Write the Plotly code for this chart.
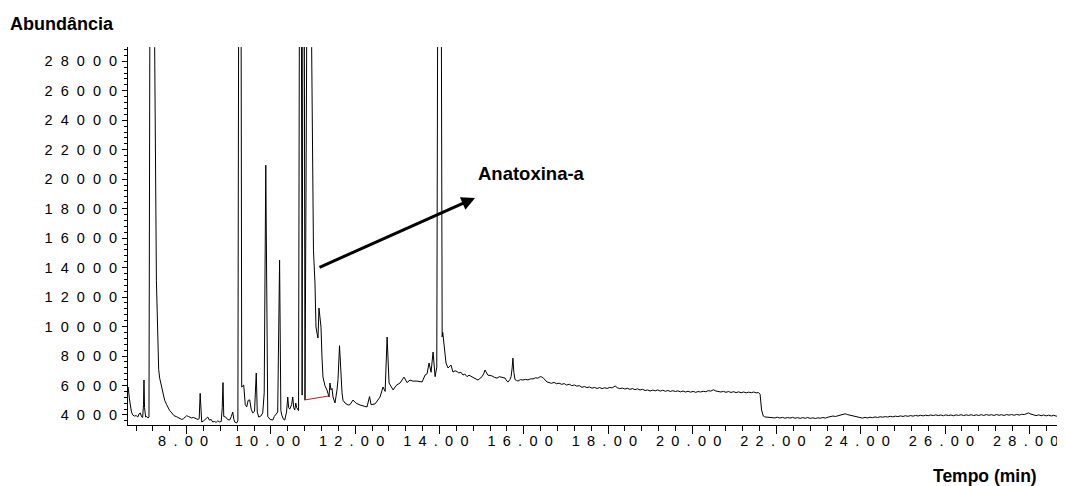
import plotly.graph_objects as go

# ---- data ----
time_min = [
    6.612, 6.64, 6.69, 6.72, 6.76, 6.80, 6.84, 6.87, 6.90, 6.93, 6.955, 6.975, 6.986, 7.00, 7.026,
    7.05, 7.081, 7.105, 7.181, 7.240, 7.281, 7.311, 7.335, 7.359, 7.406, 7.45, 7.477, 7.525, 7.56,
    7.596, 7.63, 7.667, 7.70, 7.762, 7.80, 7.881, 7.92, 7.952, 8.00, 8.04, 8.08, 8.119, 8.16, 8.20,
    8.238, 8.27, 8.297, 8.32, 8.345, 8.356, 8.40, 8.43, 8.50, 8.54, 8.58, 8.618, 8.66, 8.70, 8.736,
    8.784, 8.82, 8.843, 8.862, 8.88, 8.926, 8.97, 9.021, 9.06, 9.093, 9.12, 9.140, 9.188, 9.215,
    9.265, 9.306, 9.354, 9.39, 9.425, 9.46, 9.496, 9.53, 9.568, 9.61, 9.651, 9.675, 9.710, 9.76,
    9.805, 9.84, 9.877, 9.91, 9.924, 9.98, 10.043, 10.08, 10.114, 10.16, 10.205, 10.235, 10.257,
    10.30, 10.328, 10.37, 10.399, 10.42, 10.447, 10.49, 10.518, 10.54, 10.565, 10.589, 10.61,
    10.637, 10.655, 10.70, 10.74, 10.775, 10.808, 10.82, 10.89, 10.966, 11.004, 11.009, 11.045,
    11.069, 11.093, 11.116, 11.14, 11.164, 11.188, 11.211, 11.235, 11.28, 11.33, 11.378, 11.40,
    11.425, 11.45, 11.473, 11.52, 11.568, 11.592, 11.627, 11.663, 11.687, 11.71, 11.758, 11.83,
    11.876, 11.948, 12.02, 12.114, 12.21, 12.28, 12.34, 12.376, 12.47, 12.59, 12.66, 12.71, 12.757,
    12.803, 12.90, 12.97, 13.063, 13.158, 13.23, 13.30, 13.37, 13.468, 13.587, 13.658, 13.706,
    13.753, 13.80, 13.848, 13.896, 13.936, 14.00, 14.036, 14.064, 14.078, 14.107, 14.155, 14.202,
    14.273, 14.32, 14.37, 14.416, 14.46, 14.51, 14.558, 14.60, 14.653, 14.70, 14.75, 14.80, 14.85,
    14.914, 14.96, 15.01, 15.05, 15.08, 15.12, 15.15, 15.20, 15.247, 15.30, 15.366, 15.42, 15.484,
    15.556, 15.60, 15.627, 15.67, 15.70, 15.725, 15.743, 15.765, 15.793, 15.83, 15.864, 15.92,
    15.98, 16.04, 16.10, 16.16, 16.22, 16.28, 16.338, 16.39, 16.43, 16.47, 16.50, 16.55,
    16.60, 16.66, 16.72, 16.78, 16.84, 16.90, 16.96, 17.02, 17.08, 17.14, 17.20, 17.26, 17.32,
    17.38, 17.44, 17.50, 17.56, 17.62, 17.68, 17.74, 17.80, 17.86, 17.92, 17.98, 18.04, 18.10,
    18.17, 18.22, 18.28, 18.34, 18.40, 18.46, 18.52, 18.58, 18.64, 18.70, 18.76, 18.82, 18.88,
    18.94, 19.00, 19.06, 19.12, 19.18, 19.24, 19.30, 19.36, 19.42, 19.48, 19.54, 19.60, 19.66,
    19.72, 19.78, 19.84, 19.90, 19.96, 20.02, 20.08, 20.14, 20.20, 20.26, 20.32, 20.38, 20.44,
    20.50, 20.56, 20.62, 20.68, 20.74, 20.80, 20.86, 20.92, 20.98, 21.04, 21.10, 21.16, 21.22,
    21.28, 21.34, 21.40, 21.46, 21.52, 21.57, 21.61, 21.645, 21.685, 21.72,
    21.78, 21.84, 21.90, 21.96, 22.02, 22.08, 22.14, 22.20, 22.26, 22.32, 22.38, 22.44, 22.50,
    22.56, 22.62, 22.68, 22.74, 22.80, 22.86, 22.92, 22.98, 23.04, 23.10, 23.16, 23.22, 23.28,
    23.34, 23.40, 23.46, 23.52, 23.58, 23.63, 23.68, 23.74, 23.80, 23.86, 23.92, 23.98, 24.04,
    24.10, 24.16, 24.22, 24.28, 24.34, 24.40, 24.46, 24.52, 24.58, 24.64, 24.70, 24.76, 24.82,
    24.88, 24.94, 25.00, 25.06, 25.12, 25.18, 25.24, 25.30, 25.36, 25.42, 25.48, 25.54, 25.60,
    25.66, 25.72, 25.78, 25.84, 25.90, 25.96, 26.02, 26.08, 26.14, 26.20, 26.26, 26.32, 26.38,
    26.44, 26.50, 26.56, 26.62, 26.68, 26.74, 26.80, 26.86, 26.92, 26.98, 27.04, 27.10, 27.16,
    27.22, 27.28, 27.34, 27.40, 27.46, 27.52, 27.58, 27.64, 27.70, 27.76, 27.82, 27.88, 27.94,
    27.98, 28.04, 28.10, 28.16, 28.22, 28.28, 28.34, 28.40, 28.46, 28.52, 28.58, 28.64, 28.70,
    28.76, 28.82, 28.85,
]

abundance = [
    5900, 5100, 4200, 4000, 3930, 3960, 3860, 4080, 4130, 3880, 3830, 4700, 6370, 4500, 3860,
    3900, 3800, 3850, 100000, 28950, 13150, 8600, 7100, 6500, 5900, 5350, 5000, 4700, 4450,
    4300, 4200, 4100, 3950, 3880, 3820, 3700, 3740, 3850, 3950, 3900, 3860, 3800, 3840, 3760,
    3730, 3700, 3750, 5470, 3600, 3525, 3600, 3700, 3860, 3650, 3700, 3525, 3560, 3500, 3600,
    3525, 3560, 4500, 6200, 3900, 3860, 3700, 3660, 3900, 4200, 3700, 3525, 3460, 3600,
    80000, 5900, 6030, 4700, 4550, 5000, 5020, 4400, 4140, 4250, 6850, 4200, 3860, 3930,
    4140, 5500, 20950, 4500, 3900, 3700, 3660, 3900, 4000, 4200, 14500, 4300, 3990,
    3700, 3660, 4200, 5220, 4500, 4400, 4700, 5220, 4500, 4340, 4814, 4500,
    4340, 4300, 65000, 5350, 60000, 5017, 35000, 54000, 28950, 16540, 15187, 12950,
    9966, 9560, 9221, 11255, 10500, 9966, 7932, 6576, 6000, 5695, 5220, 6170,
    5700, 5800, 5220, 4814, 5700, 6400, 8700, 6300, 5500, 5000, 4814, 4678,
    4700, 5017, 4800, 4678, 4610, 4542, 5250, 4700, 4750, 5220, 5900, 5600, 9290,
    6170, 5700, 6000, 6170, 6570, 6200, 6370, 6300, 6300, 6240, 6710, 6800,
    7530, 6900, 8270, 6600, 7250, 80000, 30000, 9300, 9600, 8880, 7530, 7190,
    7390, 6915, 7000, 6950, 6850, 6900, 6710, 6780, 6600, 6700, 6620, 6580, 6500,
    6370, 6480, 6600, 6800, 7050, 6850, 6700, 6680, 6650, 6560, 6500, 6600, 6580,
    6510, 6300, 6237, 6400, 6600, 7200, 7860, 6900, 6400, 6350, 6300, 6400,
    6370, 6420, 6380, 6450, 6450, 6520, 6500, 6600, 6580, 6500, 6400, 6240,
    6200, 6150, 6210, 6120, 6160, 6080, 6130, 6030, 6090, 5990, 6040, 5960, 5990,
    5880, 5930, 5860, 5900, 5820, 5870, 5800, 5860, 5790, 5850, 5800, 5870, 5840,
    5970, 5850, 5790, 5830, 5760, 5810, 5740, 5790, 5720, 5770, 5700, 5740, 5660,
    5700, 5630, 5690, 5640, 5700, 5620, 5680, 5610, 5660, 5600, 5650, 5590, 5640,
    5570, 5630, 5560, 5610, 5550, 5600, 5540, 5590, 5560, 5610, 5580, 5650, 5620,
    5710, 5630, 5600, 5560, 5600, 5540, 5590, 5530, 5580, 5520, 5570, 5510, 5560,
    5500, 5550, 5510, 5560, 5500, 5530, 5400, 4340, 3930, 3870,
    3860, 3820, 3860, 3800, 3850, 3790, 3840, 3780, 3830, 3790, 3840, 3780, 3820,
    3770, 3820, 3780, 3830, 3770, 3810, 3760, 3810, 3780, 3830, 3790, 3850, 3880,
    3930, 3900, 3960, 3990, 4040, 4080, 4030, 3980, 3930, 3890, 3850, 3830, 3790,
    3840, 3800, 3850, 3820, 3870, 3830, 3880, 3850, 3890, 3860, 3910, 3870, 3920,
    3890, 3940, 3900, 3950, 3910, 3960, 3920, 3970, 3930, 3980, 3940, 3990, 3950,
    4000, 3960, 4010, 3960, 4000, 3950, 4010, 3960, 4000, 3950, 4010, 3970, 4020,
    3960, 4010, 3970, 4020, 3960, 4010, 3970, 4020, 3970, 4030, 3980, 4020, 3970,
    4030, 3980, 4020, 3970, 4030, 3990, 4030, 3980, 4040, 3990, 4050, 4030, 4110,
    4140, 4060, 4000, 3960, 4010, 3950, 4000, 3940, 3990, 3930, 3980, 3920, 3970,
    3920, 3960, 3930,
]

# integration baseline drawn under the anatoxin-a region
baseline_time = [10.79, 11.375]
baseline_abund = [5017, 5290]

x_tick_vals = [8, 10, 12, 14, 16, 18, 20, 22, 24, 26, 28]
x_tick_labels = ["8.00", "10.00", "12.00", "14.00", "16.00", "18.00", "20.00",
                 "22.00", "24.00", "26.00", "28.00"]
y_tick_vals = [4000, 6000, 8000, 10000, 12000, 14000, 16000, 18000, 20000,
               22000, 24000, 26000, 28000]
y_tick_labels = [str(v) for v in y_tick_vals]

EN = "\u2002"   # en space
FIG = "\u2007"  # figure space


def spaced(s, sep, trailing=False):
    out = sep.join(list(s))
    return out + sep if trailing else out


FONT = "Liberation Sans, Arial, Helvetica, sans-serif"

fig = go.Figure()
fig.add_trace(go.Scatter(x=time_min, y=abundance, mode="lines",
                         line=dict(color="#000000", width=1), hoverinfo="skip",
                         showlegend=False))
fig.add_trace(go.Scatter(x=baseline_time, y=baseline_abund, mode="lines",
                         line=dict(color="#b22222", width=1), hoverinfo="skip",
                         showlegend=False))

# the page body adds an 8 px offset, so the figure is 8 px smaller on each side
fig.update_layout(
    width=1057, height=478,
    margin=dict(l=120, r=0, t=39, b=61, autoexpand=False),
    paper_bgcolor="white", plot_bgcolor="white",
    font=dict(family=FONT, color="black", size=14),
    showlegend=False,
    xaxis=dict(
        range=[6.607, 28.847], showgrid=False, zeroline=False,
        showline=True, linecolor="black", linewidth=1,
        ticks="outside", ticklen=8, tickwidth=1, tickcolor="black",
        tickvals=x_tick_vals, ticktext=[spaced(t, EN, True) for t in x_tick_labels],
        tickfont=dict(family=FONT, size=14.5, color="black"),
        ticklabelstandoff=-5, automargin=False, ticklabeloverflow="allow",
        minor=dict(dtick=0.4, tick0=8, ticks="outside", ticklen=5,
                   tickcolor="black", tickwidth=1, showgrid=False),
    ),
    yaxis=dict(
        range=[3321, 28970], showgrid=False, zeroline=False,
        showline=True, linecolor="black", linewidth=1,
        ticks="outside", ticklen=5, tickwidth=1, tickcolor="black",
        tickvals=y_tick_vals, ticktext=[spaced(t, FIG) for t in y_tick_labels],
        tickfont=dict(family=FONT, size=14.5, color="black"),
        ticklabelstandoff=2, automargin=False, ticklabeloverflow="allow",
        minor=dict(dtick=400, tick0=4000, ticks="outside", ticklen=3,
                   tickcolor="black", tickwidth=1, showgrid=False),
    ),
)

fig.add_annotation(text="<b>Abundância</b>", xref="paper", yref="paper",
                   x=-0.128, y=1.061, xanchor="left", yanchor="middle",
                   showarrow=False, font=dict(family=FONT, size=18, color="black"))
fig.add_annotation(text="<b>Tempo (min)</b>", xref="paper", yref="paper",
                   x=0.915, y=-0.136, xanchor="center", yanchor="middle",
                   showarrow=False, font=dict(family=FONT, size=17.5, color="black"))
fig.add_annotation(text="<b>Anatoxina-a</b>", xref="x", yref="y",
                   x=14.867, y=20354, xanchor="left", yanchor="middle",
                   showarrow=False, font=dict(family=FONT, size=18.5, color="black"))
fig.add_annotation(text="", xref="x", yref="y", axref="x", ayref="y",
                   x=14.843, y=18726, ax=11.117, ay=13975,
                   showarrow=True, arrowhead=2, arrowsize=0.9, arrowwidth=3,
                   arrowcolor="black", standoff=0, startstandoff=0)

fig.write_html("out.html")
